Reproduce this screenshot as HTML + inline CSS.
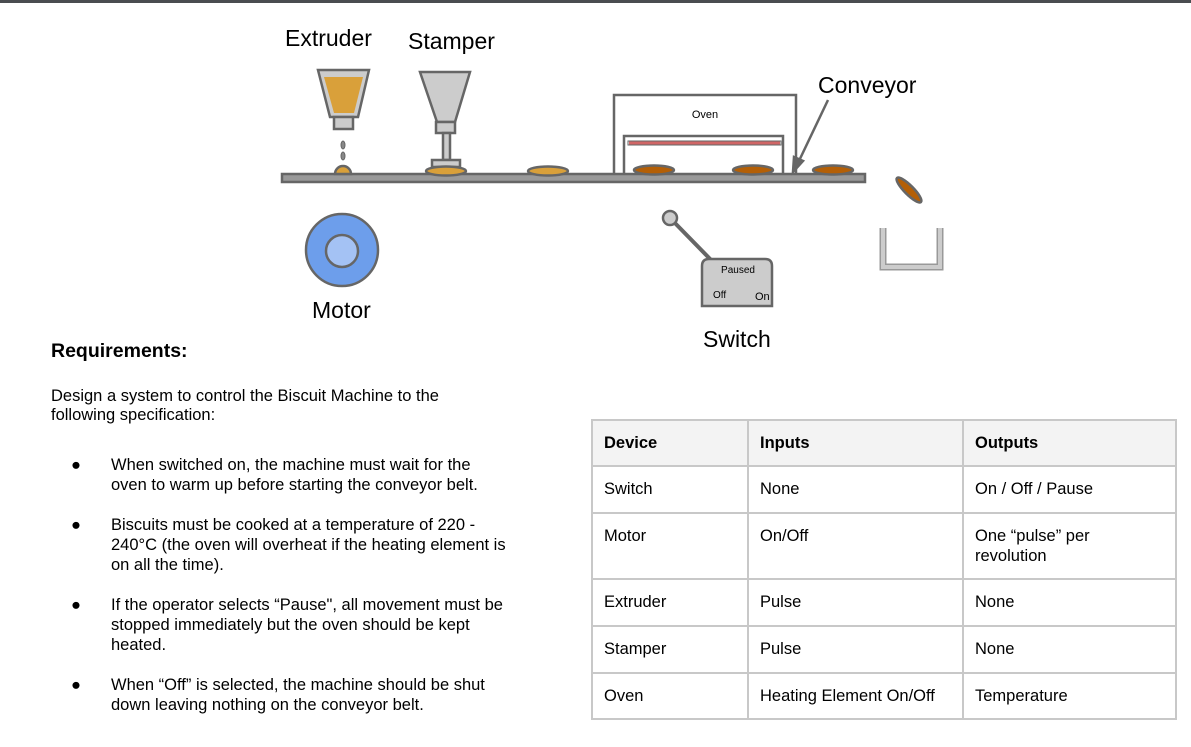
<!DOCTYPE html>
<html><head><style>
body{margin:0;width:1191px;height:747px;background:#fff;position:relative;overflow:hidden;font-family:"Liberation Sans",Arial,sans-serif;color:#000}
.t{position:absolute;white-space:nowrap}
.p{position:absolute;font-size:16.5px;line-height:20px;white-space:nowrap}
table{position:absolute;left:591px;top:419px;border-collapse:collapse;font-size:16.5px}
td{border:2px solid #c8c8c8;padding:0 11px;vertical-align:top;padding-top:12px;line-height:20px}
</style></head><body>
<div style="position:absolute;left:0;top:0;width:1191px;height:3px;background:#4a4d50"></div>
<svg width="1191" height="747" style="position:absolute;left:0;top:0">
<g stroke="#666" stroke-width="2.5">
<rect x="282" y="174" width="583" height="8" fill="#999"/>
<polygon points="318,70 369,70 358,117 330,117" fill="#ccc"/>
<polygon points="324,77 363,77 354,113 334,113" fill="#d9a03a" stroke="none"/>
<rect x="334" y="117" width="19" height="12" fill="#ccc"/>
<ellipse cx="343" cy="145" rx="2" ry="4" fill="#888" stroke-width="1"/>
<ellipse cx="343" cy="156" rx="2" ry="4" fill="#888" stroke-width="1"/>
<path d="M335,174 A8,8 0 0 1 351,174 Z" fill="#d9a03a"/>
<polygon points="420,72 470,72 455,122 437,122" fill="#ccc"/>
<rect x="436" y="122" width="19" height="11" fill="#ccc"/>
<rect x="443" y="133" width="7" height="27" fill="#ccc"/>
<rect x="432" y="160" width="28" height="7" fill="#ccc"/>
<ellipse cx="446" cy="171" rx="20" ry="4.5" fill="#d9a03a"/>
<ellipse cx="548" cy="171" rx="20" ry="4.5" fill="#d9a03a"/>
<polyline points="614,173 614,95 796,95 796,173" fill="none"/>
<polyline points="624,173 624,136 783,136 783,173" fill="none"/>
<line x1="629" y1="143" x2="780" y2="143" stroke="#d06666" stroke-width="3"/>
<rect x="628" y="141" width="153" height="4" fill="none" stroke="#666" stroke-width="1"/>
<ellipse cx="654" cy="170" rx="20" ry="4.5" fill="#b45f06"/>
<ellipse cx="753" cy="170" rx="20" ry="4.5" fill="#b45f06"/>
<ellipse cx="833" cy="170" rx="20" ry="4.5" fill="#b45f06"/>
<ellipse cx="909" cy="190" rx="17" ry="4.5" fill="#b45f06" transform="rotate(45 909 190)"/>
<line x1="828" y1="100" x2="798" y2="163" stroke-width="2.5"/>
<polygon points="793,172 794,157 803,161" fill="#666"/>
<path d="M883,228 V267 H940 V228" fill="none" stroke="#999" stroke-width="7"/>
<path d="M883,228 V267 H940 V228" fill="none" stroke="#ccc" stroke-width="4"/>
<circle cx="342" cy="250" r="36" fill="#6d9eeb"/>
<circle cx="342" cy="251" r="16" fill="#a4c2f4"/>
<line x1="671" y1="219" x2="713" y2="262" stroke-width="4"/>
<circle cx="670" cy="218" r="7" fill="#ccc"/>
<path d="M702,306 V266 Q702,259 709,259 H765 Q772,259 772,266 V306 Z" fill="#ccc"/>
</g>
<g font-family="Liberation Sans,Arial,sans-serif" fill="#000">
<text x="705" y="118" font-size="11" text-anchor="middle">Oven</text>
<text x="738" y="273" font-size="10" text-anchor="middle">Paused</text>
<text x="713" y="298" font-size="10">Off</text>
<text x="755" y="300" font-size="11">On</text>
</g>
</svg>
<div class="t" style="left:285px;top:25px;font-size:23px">Extruder</div>
<div class="t" style="left:408px;top:28px;font-size:23px">Stamper</div>
<div class="t" style="left:818px;top:72px;font-size:23px">Conveyor</div>
<div class="t" style="left:312px;top:297px;font-size:23px">Motor</div>
<div class="t" style="left:703px;top:326px;font-size:23px">Switch</div>
<div class="t" style="left:51px;top:340px;font-size:19.5px;font-weight:bold">Requirements:</div>
<div class="p" style="left:51px;top:387px;line-height:19px">Design a system to control the Biscuit Machine to the<br>following specification:</div>
<div class="p" style="left:71px;top:455px">●</div>
<div class="p" style="left:111px;top:455px">When switched on, the machine must wait for the<br>oven to warm up before starting the conveyor belt.</div>
<div class="p" style="left:71px;top:515px">●</div>
<div class="p" style="left:111px;top:515px">Biscuits must be cooked at a temperature of 220 -<br>240°C (the oven will overheat if the heating element is<br>on all the time).</div>
<div class="p" style="left:71px;top:595px">●</div>
<div class="p" style="left:111px;top:595px">If the operator selects “Pause", all movement must be<br>stopped immediately but the oven should be kept<br>heated.</div>
<div class="p" style="left:71px;top:675px">●</div>
<div class="p" style="left:111px;top:675px">When “Off” is selected, the machine should be shut<br>down leaving nothing on the conveyor belt.</div>
<table>
<tr style="height:46px;background:#f3f3f3;font-weight:bold"><td style="width:132px">Device</td><td style="width:191px">Inputs</td><td style="width:189px">Outputs</td></tr>
<tr style="height:47px"><td>Switch</td><td>None</td><td>On / Off / Pause</td></tr>
<tr style="height:66px"><td>Motor</td><td>On/Off</td><td>One “pulse” per<br>revolution</td></tr>
<tr style="height:47px"><td>Extruder</td><td>Pulse</td><td>None</td></tr>
<tr style="height:47px"><td>Stamper</td><td>Pulse</td><td>None</td></tr>
<tr style="height:46px"><td>Oven</td><td>Heating Element On/Off</td><td>Temperature</td></tr>
</table>
</body></html>
